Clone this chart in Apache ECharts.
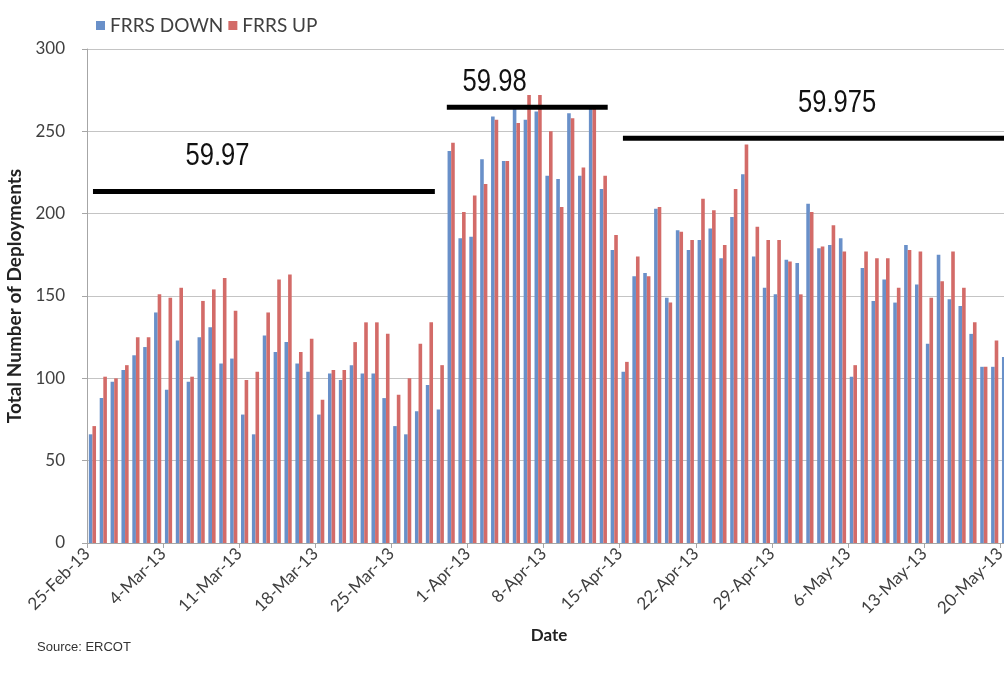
<!DOCTYPE html>
<html>
<head>
<meta charset="utf-8">
<title>FRRS Deployments</title>
<script src="https://cdn.jsdelivr.net/npm/echarts@6/dist/echarts.min.js"></script>
<style>
html, body { margin: 0; padding: 0; background: #fff; }
#chart { width: 1004px; height: 677px; }
</style>
</head>
<body>
<div id="chart"></div>
<script>
/* 数据 -- daily FRRS deployments, 25-Feb-13 .. 20-May-13 */
var months = ['Jan', 'Feb', 'Mar', 'Apr', 'May', 'Jun'];
var dayCount = 85;
var tickLabels = ['25-Feb-13', '4-Mar-13', '11-Mar-13', '18-Mar-13', '25-Mar-13', '1-Apr-13', '8-Apr-13',
    '15-Apr-13', '22-Apr-13', '29-Apr-13', '6-May-13', '13-May-13', '20-May-13'];

var frrsDown = [66, 88, 98, 105, 114, 119, 140, 93, 123, 98, 125, 131, 109, 112,
    78, 66, 126, 116, 122, 109, 104, 78, 103, 99, 108, 103, 103, 88,
    71, 66, 80, 96, 81, 238, 185, 186, 233, 259, 232, 265, 257, 262,
    223, 221, 261, 223, 265, 215, 178, 104, 162, 164, 203, 149, 190, 178,
    184, 191, 173, 198, 224, 174, 155, 151, 172, 170, 206, 179, 181, 185,
    101, 167, 147, 160, 146, 181, 157, 121, 175, 148, 144, 127, 107, 107, 113];

var frrsUp = [71, 101, 100, 108, 125, 125, 151, 149, 155, 101, 147, 154, 161, 141,
    99, 104, 140, 160, 163, 116, 124, 87, 105, 105, 122, 134, 134, 127,
    90, 100, 121, 134, 108, 243, 201, 211, 218, 257, 232, 255, 272, 272,
    250, 204, 258, 228, 265, 223, 187, 110, 174, 162, 204, 146, 189, 184,
    209, 202, 181, 215, 242, 192, 184, 184, 171, 151, 201, 180, 193, 177,
    108, 177, 173, 173, 155, 178, 177, 149, 159, 177, 155, 134, 107, 123, 110];

// frequency thresholds (black bars), x in days from 25-Feb
var thresholdNames = ['59.97', '59.98', '59.975'];
var thresholdValues = [213.4, 264.7, 245.8];
var thresholdFrom = [0.55, 33.1, 49.3];
var thresholdTo = [32.0, 47.9, 85];
var thresholdLabelAt = [[12.0, 235], [37.5, 280], [69.0, 267]];

// category names, one per day
function buildDays(n) {
    var arr = [];
    var d = new Date(2013, 1, 25);
    for (var i = 0; i < n; i++) {
        arr.push(d.getDate() + '-' + months[d.getMonth()] + '-13');
        d.setDate(d.getDate() + 1);
    }
    return arr;
}
var days = buildDays(dayCount);

var axisGrey = '#a6a6a6';
var textGrey = '#404040';

var dom = document.getElementById('chart');
var myChart = echarts.init(dom);

var series = [{
        name: 'FRRS DOWN',
        type: 'bar',
        data: frrsDown,
        barWidth: 3.6,
        barGap: '0%',
        itemStyle: { color: '#6990c9' }
    },
    {
        name: 'FRRS UP',
        type: 'bar',
        data: frrsUp,
        barWidth: 3.6,
        itemStyle: { color: '#d36b68' }
    }
];

for (var i = 0; i < thresholdNames.length; i++) {
    series.push({
        type: 'line',
        xAxisIndex: 1,
        symbol: 'none',
        silent: true,
        z: 5,
        lineStyle: { color: '#000', width: 5 },
        data: [[thresholdFrom[i], thresholdValues[i]], [thresholdTo[i], thresholdValues[i]]]
    });
}

var option = {
    backgroundColor: '#fff',
    animation: false,
    legend: {
        data: ['FRRS DOWN', 'FRRS UP'],
        left: 91,
        top: 11,
        icon: 'rect',
        itemWidth: 9,
        itemHeight: 9,
        itemGap: 5,
        textStyle: { fontFamily: 'Lato', fontSize: 19, color: textGrey }
    },
    grid: {
        left: 87,
        top: 49,
        width: 924,
        height: 494,
        containLabel: false,
        outerBoundsMode: 'none' // grid runs past the right edge, like the cropped original
    },
    xAxis: [{
            type: 'category',
            data: days,
            boundaryGap: true,
            axisLine: { lineStyle: { color: axisGrey } },
            axisTick: { show: false },
            axisLabel: { show: false }
        },
        {
            type: 'value',
            position: 'bottom',
            min: 0,
            max: dayCount,
            interval: 7,
            name: 'Date',
            nameLocation: 'middle',
            nameGap: 84,
            nameTextStyle: { fontFamily: 'Lato', fontWeight: 'bold', fontSize: 17, color: '#222' },
            axisLine: { show: false },
            axisTick: { show: true, length: 5, lineStyle: { color: axisGrey } },
            splitLine: { show: false },
            axisLabel: {
                rotate: 45,
                margin: 8,
                fontFamily: 'Lato',
                fontSize: 17,
                color: textGrey,
                showMaxLabel: false,
                formatter: function (v) {
                    return v % 7 === 0 ? tickLabels[v / 7] : '';
                }
            }
        }
    ],
    yAxis: {
        type: 'value',
        min: 0,
        max: 300,
        interval: 50,
        name: 'Total Number of Deployments',
        nameLocation: 'middle',
        nameGap: 55,
        nameTextStyle: { fontFamily: 'Lato', fontWeight: 'bold', fontSize: 19, color: '#222' },
        axisLine: { show: true, lineStyle: { color: axisGrey } },
        axisTick: { show: true, length: 5, lineStyle: { color: axisGrey } },
        axisLabel: { margin: 22, fontFamily: 'Lato', fontSize: 17, color: textGrey },
        splitLine: { lineStyle: { color: '#c4c4c4' } }
    },
    series: series
};

myChart.setOption(option);

// threshold labels: narrow Arial-like text, placed through the axes
var graphics = [{
    type: 'text',
    left: 37,
    top: 641,
    style: { text: 'Source: ERCOT', fontFamily: 'Liberation Sans', fontSize: 13, fill: '#333' }
}];
for (var k = 0; k < thresholdNames.length; k++) {
    var p = myChart.convertToPixel({ xAxisIndex: 1, yAxisIndex: 0 }, thresholdLabelAt[k]);
    graphics.push({
        type: 'text',
        x: p[0],
        y: p[1],
        scaleX: 0.8,
        z: 10,
        style: {
            text: thresholdNames[k],
            align: 'center',
            verticalAlign: 'middle',
            fontFamily: '"Liberation Sans", Arial',
            fontSize: 32,
            fill: '#111'
        }
    });
}
myChart.setOption({ graphic: graphics });
</script>
</body>
</html>
